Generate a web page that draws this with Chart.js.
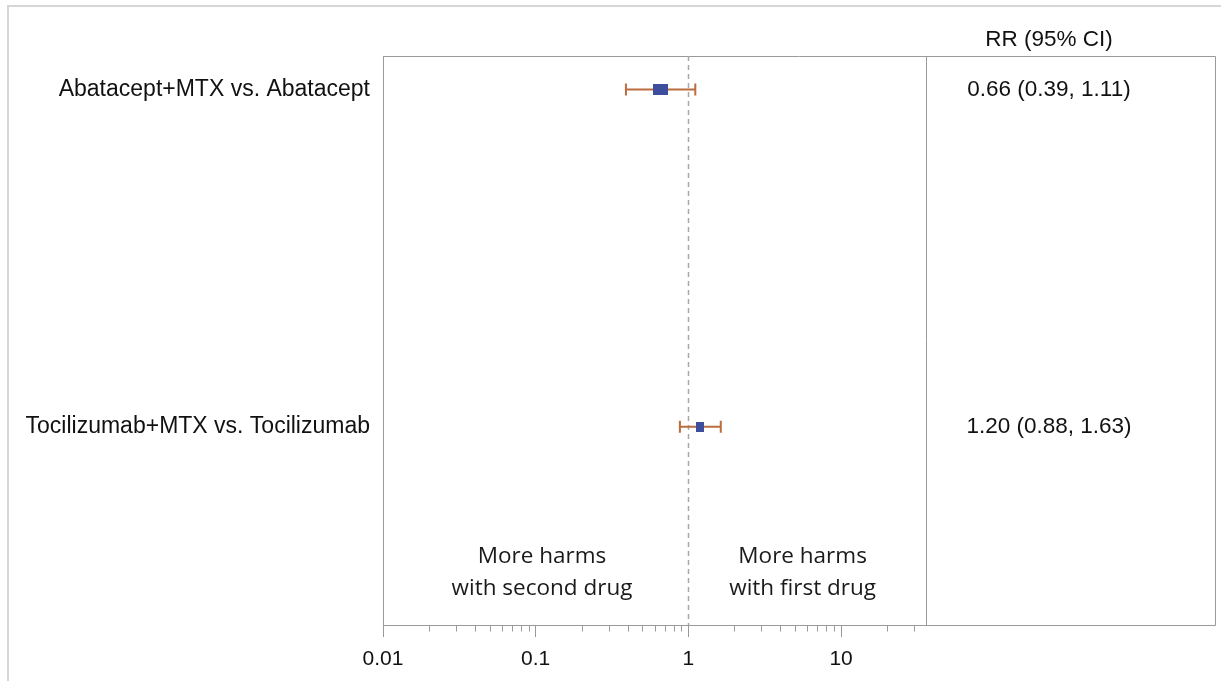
<!DOCTYPE html>
<html>
<head>
<meta charset="utf-8">
<script src="https://cdn.jsdelivr.net/npm/chart.js@4"></script>
<style>
  html, body { margin: 0; padding: 0; background: #fff; }
  #wrap { width: 1221px; height: 681px; }
</style>
</head>
<body>
<div id="wrap"><canvas id="myChart" width="1221" height="681"></canvas></div>
<script>
// data
const comparisons = ['Abatacept+MTX vs. Abatacept', 'Tocilizumab+MTX vs. Tocilizumab'];
const rr = [0.66, 1.20];
const ciLow = [0.39, 0.88];
const ciHigh = [1.11, 1.63];
const xTickLabels = ['0.01', '0.1', '1', '10'];
const columnTitle = 'RR (95% CI)';
const leftNote = ['More harms', 'with second drug'];
const rightNote = ['More harms', 'with first drug'];

// styles
const boxColor = '#3d4f9c';
const whiskerColor = '#bc6d3f';
const frameColor = '#9a9a9a';
const textFont = '"Liberation Sans", Arial, sans-serif';

// marker images (size follows the study weight)
function makeBox(w, h) {
    const c = document.createElement('canvas');
    c.width = w; c.height = h;
    const g = c.getContext('2d');
    g.fillStyle = boxColor;
    g.fillRect(0, 0, w, h);
    return c;
}
const boxes = [makeBox(15, 11), makeBox(8, 10)];

function isDecade(v) {
    const l = Math.log10(v);
    return Math.abs(l - Math.round(l)) < 1e-6;
}

// error bars, reference line and the table column
const forestPlugin = {
    id: 'forest',
    beforeDraw(chart) {
        const ctx = chart.ctx;
        ctx.save();
        ctx.strokeStyle = '#d6d6d6';
        ctx.lineWidth = 2;
        ctx.beginPath();
        ctx.moveTo(8, 681);
        ctx.lineTo(8, 6);
        ctx.lineTo(1221, 6);
        ctx.stroke();
        ctx.restore();
    },
    beforeDatasetsDraw(chart) {
        const { ctx, chartArea, scales: { x, y } } = chart;
        ctx.save();
        // box around plot + table, axis line runs under both
        const right = 1215;
        const bottom = chartArea.bottom + 0.5;
        ctx.strokeStyle = frameColor;
        ctx.lineWidth = 1;
        ctx.beginPath();
        ctx.moveTo(chartArea.left, chartArea.top + 0.5);
        ctx.lineTo(right + 0.5, chartArea.top + 0.5);
        ctx.lineTo(right + 0.5, bottom);
        ctx.lineTo(chartArea.left, bottom);
        ctx.moveTo(chartArea.right + 0.5, chartArea.top);
        ctx.lineTo(chartArea.right + 0.5, bottom);
        ctx.stroke();

        // minor ticks
        ctx.beginPath();
        x.ticks.forEach(t => {
            if (isDecade(t.value)) return;
            const px = Math.round(x.getPixelForValue(t.value)) + 0.5;
            ctx.moveTo(px, bottom);
            ctx.lineTo(px, bottom + 6);
        });
        ctx.stroke();

        // reference line at 1
        const x1 = Math.round(x.getPixelForValue(1)) + 0.5;
        ctx.strokeStyle = '#a8a8a8';
        ctx.lineWidth = 1.5;
        ctx.setLineDash([5, 4]);
        ctx.beginPath();
        ctx.moveTo(x1, chartArea.top);
        ctx.lineTo(x1, chartArea.bottom);
        ctx.stroke();
        ctx.setLineDash([]);

        // whiskers
        ctx.strokeStyle = whiskerColor;
        ctx.lineWidth = 2;
        comparisons.forEach((c, i) => {
            const py = y.getPixelForValue(i);
            const a = x.getPixelForValue(ciLow[i]);
            const b = x.getPixelForValue(ciHigh[i]);
            ctx.beginPath();
            ctx.moveTo(a, py);
            ctx.lineTo(b, py);
            ctx.moveTo(a, py - 6);
            ctx.lineTo(a, py + 6);
            ctx.moveTo(b, py - 6);
            ctx.lineTo(b, py + 6);
            ctx.stroke();
        });

        // table column
        const colX = 1049;
        ctx.fillStyle = '#111';
        ctx.textAlign = 'center';
        ctx.textBaseline = 'middle';
        ctx.font = '22.5px ' + textFont;
        ctx.fillText(columnTitle, colX, 40);
        comparisons.forEach((c, i) => {
            const txt = rr[i].toFixed(2) + ' (' + ciLow[i].toFixed(2) + ', ' + ciHigh[i].toFixed(2) + ')';
            ctx.fillText(txt, colX, y.getPixelForValue(i));
        });

        // notes under the plot
        ctx.font = '22.5px "Open Sans", sans-serif';
        ctx.fillStyle = '#1a1a1a';
        ctx.textBaseline = 'alphabetic';
        const lx = x.getPixelForValue(0.11);
        const rx = x.getPixelForValue(5.6);
        ctx.fillText(leftNote[0], lx, chartArea.bottom - 62);
        ctx.fillText(leftNote[1], lx, chartArea.bottom - 30);
        ctx.fillText(rightNote[0], rx, chartArea.bottom - 62);
        ctx.fillText(rightNote[1], rx, chartArea.bottom - 30);
        ctx.restore();
    }
};

const data = {
    datasets: [{
        label: 'RR',
        data: rr.map((v, i) => ({ x: v, y: i })),
        pointStyle: boxes,
        pointRadius: 8,
        pointHoverRadius: 8,
        showLine: false
    }]
};

const config = {
    type: 'scatter',
    data: data,
    options: {
        responsive: false,
        animation: false,
        events: [],
        layout: { padding: { top: 56, right: 295, left: 0, bottom: 0 } },
        plugins: { legend: { display: false }, tooltip: { enabled: false } },
        scales: {
            x: {
                type: 'logarithmic',
                min: 0.01,
                max: 36,
                afterBuildTicks(scale) {
                    scale.ticks = scale.ticks.filter(t => {
                        const m = t.value / Math.pow(10, Math.floor(Math.log10(t.value) + 1e-9));
                        return Math.abs(m - Math.round(m)) < 1e-6 && t.value <= 30;
                    });
                },
                afterFit(scale) { scale.height = 56; },
                border: { display: false },
                grid: {
                    drawOnChartArea: false,
                    tickLength: 12,
                    tickColor: c => (c.tick && isDecade(c.tick.value)) ? frameColor : 'rgba(0,0,0,0)'
                },
                ticks: {
                    autoSkip: false,
                    maxRotation: 0,
                    padding: 10,
                    color: '#111',
                    font: { family: textFont, size: 21 },
                    callback: v => {
                        const i = xTickLabels.findIndex(s => Math.abs(parseFloat(s) - v) < 1e-9);
                        return i >= 0 ? xTickLabels[i] : '';
                    }
                }
            },
            y: {
                type: 'linear',
                reverse: true,
                min: -0.0994,
                max: 1.5875,
                afterBuildTicks(scale) {
                    scale.ticks = comparisons.map((c, i) => ({ value: i }));
                },
                afterFit(scale) { scale.width = 383; },
                border: { display: true, color: frameColor },
                grid: { drawOnChartArea: false, drawTicks: false },
                ticks: {
                    padding: 13,
                    color: '#111',
                    font: { family: textFont, size: 23 },
                    callback: v => comparisons[v] || ''
                }
            }
        }
    },
    plugins: [forestPlugin]
};

new Chart(document.getElementById('myChart').getContext('2d'), config);
</script>
</body>
</html>
